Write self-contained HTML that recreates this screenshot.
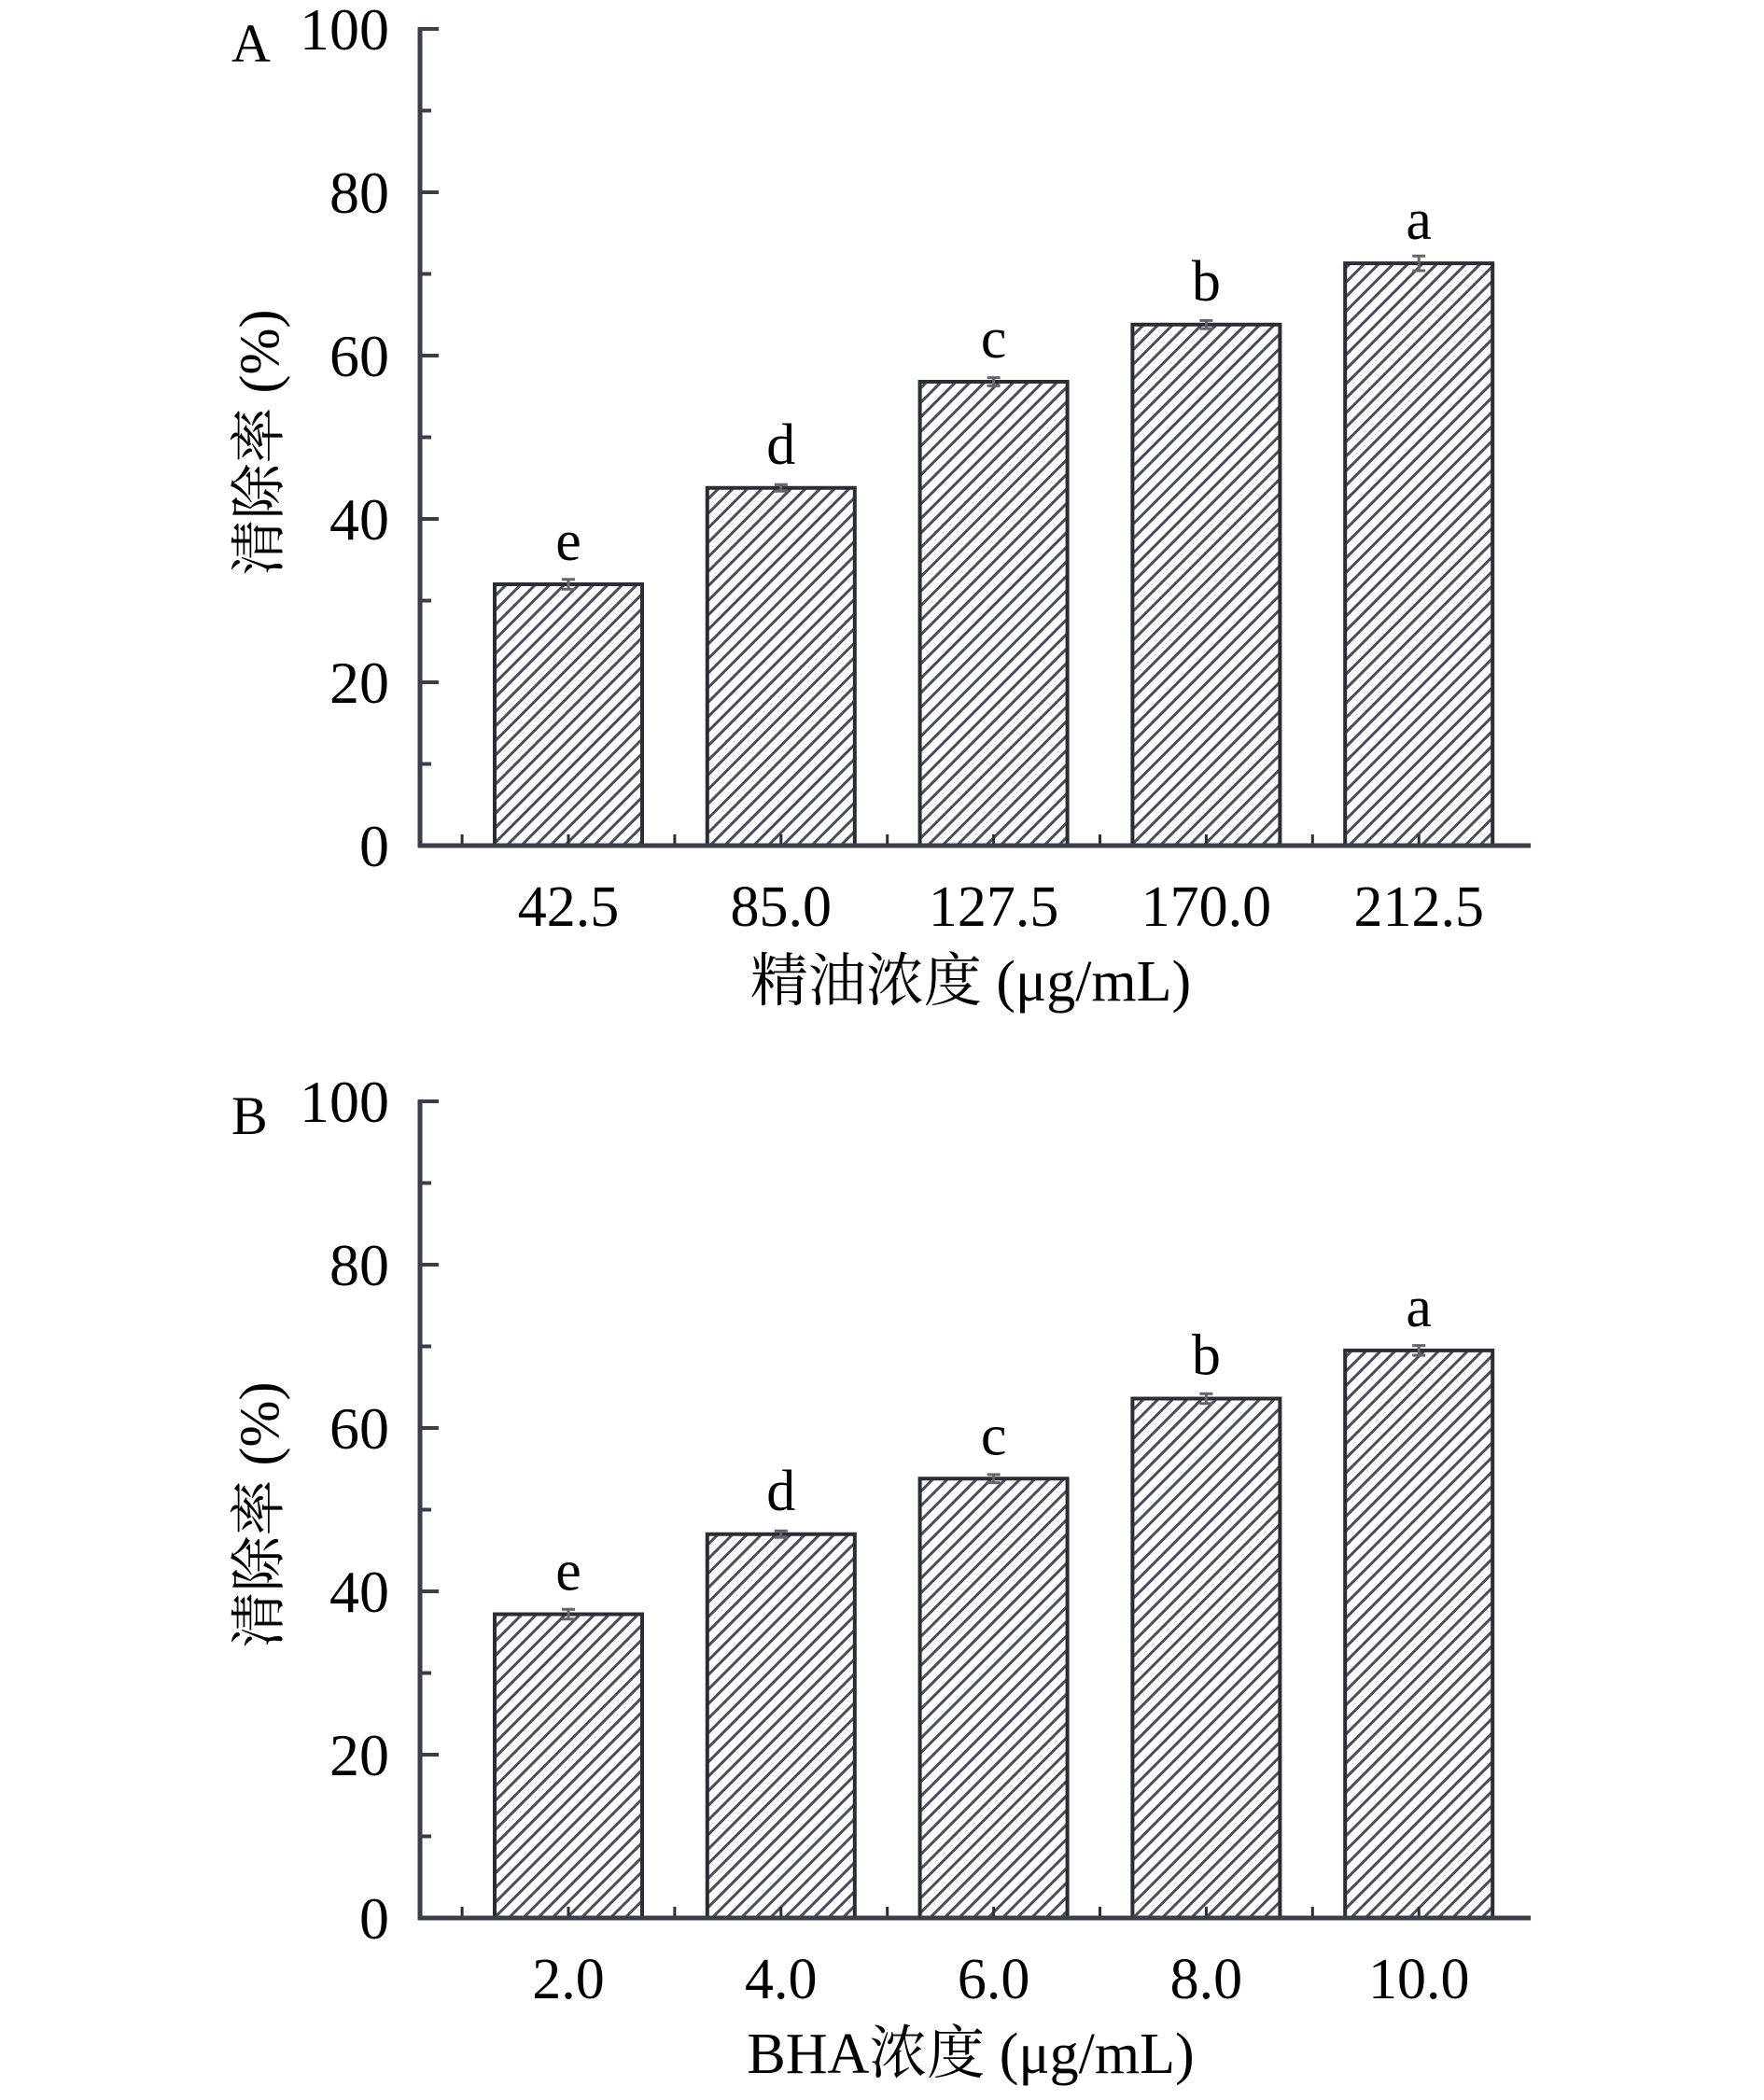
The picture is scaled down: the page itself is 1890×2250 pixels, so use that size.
<!DOCTYPE html>
<html><head><meta charset="utf-8">
<style>
html,body{margin:0;padding:0;background:#fff;}
svg{display:block;}
text{font-family:"Liberation Serif","Noto Serif CJK SC",serif;fill:#000;}
</style></head>
<body>
<svg id="chart" width="1890" height="2250" viewBox="0 0 1890 2250" xmlns="http://www.w3.org/2000/svg">
<defs>
<pattern id="hatch" patternUnits="userSpaceOnUse" width="11" height="11" patternTransform="rotate(45)">
<rect width="11" height="11" fill="#fff"/>
<rect x="0" y="0" width="3" height="11" fill="#4a4d5a"/>
</pattern>
</defs>
</svg>
<script>
const catsA = ['42.5','85.0','127.5','170.0','212.5'];
const valsA = [32.0, 43.8, 56.8, 63.8, 71.3];
const errA = [0.6, 0.4, 0.5, 0.5, 0.9];
const lettersA = ['e','d','c','b','a'];
const catsB = ['2.0','4.0','6.0','8.0','10.0'];
const valsB = [37.2, 47.0, 53.8, 63.6, 69.5];
const errB = [0.6, 0.4, 0.5, 0.6, 0.6];
const lettersB = ['e','d','c','b','a'];
const yTicks = [0,20,40,60,80,100];

const NS='http://www.w3.org/2000/svg';
const svg=document.getElementById('chart');
function mk(tag,attrs,parent){const e=document.createElementNS(NS,tag);for(const k in attrs)e.setAttribute(k,attrs[k]);(parent||svg).appendChild(e);return e;}

function panel(id,label,y0,cats,vals,errs,letters,titleText){
  const g=mk('g',{});
  
  
  const ax=450, axEnd=1640, top=y0-875, pxu=8.75;
  const yS=v=>y0-v*pxu;
  const slot=227.8;
  const xC=i=>609+slot*i;
  cats.forEach((c,i)=>{
    const cx=xC(i), w=158;
    const r=mk('rect',{x:cx-w/2,y:yS(vals[i]),width:w,height:y0-yS(vals[i]),fill:'url(#hatch)',stroke:'#2a2c36','stroke-width':4},g);
    
    
    const eb=mk('path',{d:`M${cx} ${yS(vals[i]+errs[i])}V${yS(vals[i]-errs[i])}M${cx-7} ${yS(vals[i]+errs[i])}H${cx+7}M${cx-7} ${yS(vals[i]-errs[i])}H${cx+7}`,stroke:'#666',"stroke-width":3,fill:'none'},g);
    
    
    const lt=mk('text',{x:cx,y:yS(vals[i])-26,'font-size':62,'text-anchor':'middle'},g);
    lt.textContent=letters[i];
    
    
    const tl=mk('text',{x:cx,y:y0+86,'font-size':62,'text-anchor':'middle'},g);
    tl.textContent=c;
    
    
    mk('line',{x1:cx,y1:y0,x2:cx,y2:y0-12,stroke:'#2a2c36','stroke-width':3},g);
    const hx=cx-slot/2;
    mk('line',{x1:hx,y1:y0,x2:hx,y2:y0-12,stroke:'#2a2c36','stroke-width':3},g);
  });
  const xa=mk('line',{x1:ax-2,y1:y0,x2:axEnd,y2:y0,stroke:'#3a3d4a','stroke-width':5},g);
  
  
  const ya=mk('line',{x1:ax,y1:top-2,x2:ax,y2:y0+2,stroke:'#3a3d4a','stroke-width':5},g);
  
  
  for(let v=0;v<=100;v+=10){
    const major=v%20===0;
    mk('line',{x1:ax,y1:yS(v),x2:ax+(major?20:12),y2:yS(v),stroke:'#3a3d4a','stroke-width':4},g);
  }
  yTicks.forEach(v=>{
    const t=mk('text',{x:417,y:yS(v)+22,'font-size':64,'text-anchor':'end'},g);
    t.textContent=v;
    
    
  });
  const pl=mk('text',{x:248,y:top+35,'font-size':58},g);
  pl.textContent=label;
  
  
  const yt=mk('text',{x:0,y:0,'font-size':60,'text-anchor':'middle',transform:`translate(298 ${y0-432}) rotate(-90)`},g);
  yt.textContent='清除率 (%)';
  
  
  const xt=mk('text',{x:1040,y:y0+166,'font-size':62,'text-anchor':'middle'},g);
  xt.textContent=titleText;
  
  
}
panel('a','A',906,catsA,valsA,errA,lettersA,'精油浓度 (μg/mL)');
panel('b','B',2055,catsB,valsB,errB,lettersB,'BHA浓度 (μg/mL)');
</script>
</body></html>
